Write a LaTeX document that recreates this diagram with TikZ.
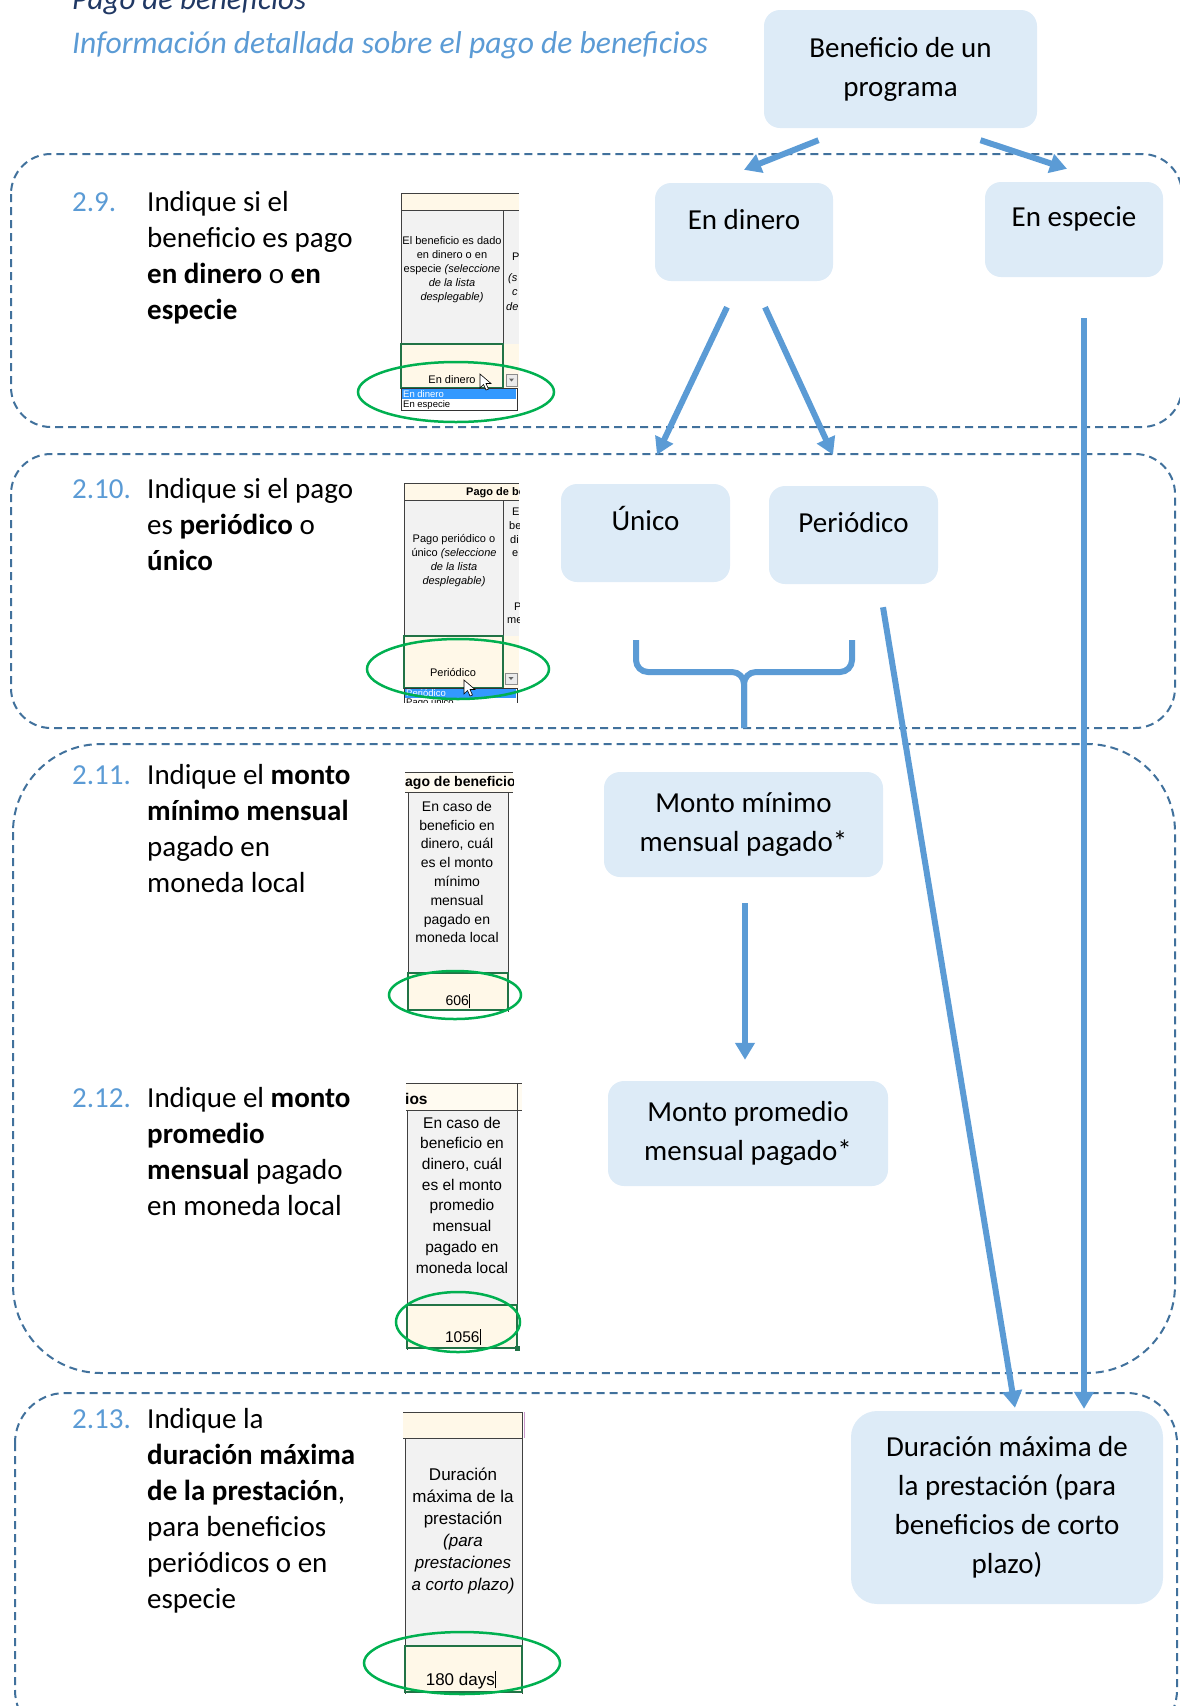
\documentclass[tikz,border=0pt]{standalone}
\usepackage{fontspec}
\setmainfont{Carlito}
\newfontfamily\sheetfont{Liberation Sans}
\usetikzlibrary{arrows.meta}
\definecolor{boxfill}{HTML}{DDEBF7}
\definecolor{arrowblue}{HTML}{5B9BD5}
\definecolor{dashblue}{HTML}{41719C}
\definecolor{titleblue}{HTML}{203864}
\definecolor{ringgreen}{HTML}{00B050}
\definecolor{cellgreen}{HTML}{217346}
\definecolor{sheetgray}{HTML}{F2F2F2}
\definecolor{sheetcream}{HTML}{FFF8E8}
\definecolor{pickblue}{HTML}{3399FF}
\newcommand{\kw}[1]{\textbf{#1}}
\newcommand{\caret}{\kern0.5pt\rule[-0.15em]{0.9pt}{1em}}
\tikzset{
  choice/.style={fill=boxfill, rounded corners=16pt, inner sep=0pt, align=center,
    font=\fontsize{29}{39}\selectfont},
  uptext/.style={text height=20pt, text depth=26pt},
  flow/.style={draw=arrowblue, line width=6pt, -{Triangle[length=17pt,width=19pt]}},
  band/.style={draw=dashblue, line width=2pt, dash pattern=on 8pt off 5pt},
  qnum/.style={anchor=base west, inner sep=0pt, text=arrowblue, font=\fontsize{29}{36}\selectfont},
  question/.style={anchor=base west, inner sep=0pt, align=left, font=\fontsize{29}{36}\selectfont},
  ring/.style={draw=ringgreen, line width=2.5pt},
  gridline/.style={draw=black!75, line width=1pt},
  pick/.style={draw=cellgreen, line width=1.5pt},
  sheet/.style 2 args={inner sep=0pt, align=center, font=\sheetfont\fontsize{#1}{#2}\selectfont},
  frag/.style={inner sep=0pt, anchor=west, font=\sheetfont\fontsize{11}{14}\selectfont},
  listitem/.style={inner sep=0pt, anchor=west, font=\sheetfont\fontsize{9.5}{10}\selectfont},
}
\begin{document}
\begin{tikzpicture}[x=1pt,y=-1pt]
  \useasboundingbox (0,0) rectangle (1179,1706);
  \node[anchor=base west, inner sep=0pt, text=titleblue, font=\fontsize{31}{36}\selectfont\itshape]
    (title) at (72,9) {Pago de beneficios};
  \node[anchor=base west, inner sep=0pt, text=arrowblue, font=\fontsize{31.6}{36}\selectfont\itshape]
    (subtitle) at (72,53) {Información detallada sobre el pago de beneficios};

  \draw[band, rounded corners=40pt] (11,154) rectangle (1182,427);
  \draw[band, rounded corners=40pt] (11,454) rectangle (1175,728);
  \draw[band, rounded corners=88pt] (13,744) rectangle (1175,1373);
  \draw[band, rounded corners=50pt] (15,1393) rectangle (1177,1740);

  % question texts sit on the baseline of their last line
  \node[qnum] (n29) at (72,211) {2.9.};
  \node[question] (q29) at (147,319) {Indique si el\\beneficio es pago\\\kw{en dinero} o \kw{en}\\\kw{especie}};
  \node[qnum] (n210) at (72,498) {2.10.};
  \node[question] (q210) at (147,570) {Indique si el pago\\es \kw{periódico} o\\\kw{único}};
  \node[qnum] (n211) at (72,784) {2.11.};
  \node[question] (q211) at (147,892) {Indique el \kw{monto}\\\kw{mínimo mensual}\\pagado en\\moneda local};
  \node[qnum] (n212) at (72,1107) {2.12.};
  \node[question] (q212) at (147,1215) {Indique el \kw{monto}\\\kw{promedio}\\\kw{mensual} pagado\\en moneda local};
  \node[qnum] (n213) at (72,1428) {2.13.};
  \node[question] (q213) at (147,1608) {Indique la\\\kw{duración máxima}\\\kw{de la prestación},\\para beneficios\\periódicos o en\\especie};

  % sheet 2.9
  \begin{scope}
    \clip (399,191) rectangle (519,411);
    \fill[sheetcream] (401,193) rectangle (519,210);
    \fill[sheetgray] (401,210) rectangle (519,344);
    \fill[sheetcream] (401,344) rectangle (519,388);
    \draw[gridline] (401,193) -- (519,193) (401,210) -- (519,210) (401,193) -- (401,388) (503,210) -- (503,388);
    \node[sheet={11}{14}] (a9txt) at (452,270) {El beneficio es dado\\en dinero o en\\especie \textit{(seleccione}\\\textit{de la lista}\\\textit{desplegable)}};
    \node[frag] (a9f1) at (512,257) {P};
    \node[frag] (a9f2) at (508,279) {\textit{(s}};
    \node[frag] (a9f3) at (512,293) {\textit{c}};
    \node[frag] (a9f4) at (506,307) {\textit{de}};
    \draw[pick] (401,344) rectangle (503,388);
    \node[sheet={11}{14}] (a9val) at (452,380) {En dinero};
    \filldraw[fill=black!8, draw=black!45] (506,374) rectangle (517,386);
    \fill[black!60] (509,378.5) -- (514,378.5) -- (511.5,381.5) -- cycle;
    \filldraw[fill=white, draw=black!80, line width=0.8pt] (401.5,388) rectangle (517,410);
    \fill[pickblue] (402,389) rectangle (516,399);
    \node[listitem, text=white] (a9l1) at (403,394) {En dinero};
    \node[listitem] (a9l2) at (403,405) {En especie};
    \filldraw[fill=white, draw=black, line width=0.6pt] (480,374) -- ++(0,14) -- ++(3.5,-3.5) -- ++(2.5,5.5)
      -- ++(2.5,-1) -- ++(-2.5,-5.5) -- ++(5,0) -- cycle;
  \end{scope}

  % sheet 2.10
  \begin{scope}
    \clip (402,481) rectangle (519,702);
    \fill[sheetcream] (404,483) rectangle (519,500);
    \fill[sheetgray] (404,500) rectangle (519,636);
    \fill[sheetcream] (404,636) rectangle (519,688);
    \draw[gridline] (404,483) -- (519,483) (404,500) -- (519,500) (404,483) -- (404,688) (503,500) -- (503,688);
    \node[frag, font=\sheetfont\bfseries\fontsize{11}{14}\selectfont] (b10head) at (466,493) {Pago de be};
    \node[sheet={11}{14}] (b10txt) at (454,561) {Pago periódico o\\único \textit{(seleccione}\\\textit{de la lista}\\\textit{desplegable)}};
    \node[frag] (b10f1) at (512,512) {E};
    \node[frag] (b10f2) at (509,526) {be};
    \node[frag] (b10f3) at (510,540) {di};
    \node[frag] (b10f4) at (512,554) {e};
    \node[frag] (b10f5) at (514,607) {P};
    \node[frag] (b10f6) at (507,621) {me};
    \draw[pick] (404,636) rectangle (503,688);
    \node[sheet={11}{14}] (b10val) at (453,672) {Periódico};
    \filldraw[fill=black!8, draw=black!45] (505,673) rectangle (517,684);
    \fill[black!60] (508.5,677) -- (513.5,677) -- (511,680) -- cycle;
    \filldraw[fill=white, draw=black!80, line width=0.8pt] (404.5,688) rectangle (517,706);
    \fill[pickblue] (405,689) rectangle (516,698);
    \node[listitem, text=white] (b10l1) at (406,693.5) {Periódico};
    \node[listitem] (b10l2) at (406,703) {Pago único};
    \filldraw[fill=white, draw=black, line width=0.6pt] (464,680) -- ++(0,14) -- ++(3.5,-3.5) -- ++(2.5,5.5)
      -- ++(2.5,-1) -- ++(-2.5,-5.5) -- ++(5,0) -- cycle;
  \end{scope}

  % sheet 2.11
  \begin{scope}
    \clip (403,770) rectangle (513,1013);
    \fill[sheetcream!60] (405,772) rectangle (513,792);
    \fill[sheetgray] (408,792) rectangle (508,973);
    \fill[sheetcream] (408,973) rectangle (508,1010);
    \draw[gridline] (405,772) -- (513,772) (405,792) -- (513,792) (408,792) -- (408,1012) (508,792) -- (508,1012);
    \node[frag, font=\sheetfont\bfseries\fontsize{14}{16}\selectfont] (c11head) at (405,783) {ago de beneficio};
    \node[sheet={14}{18.8}] (c11txt) at (457,872) {En caso de\\beneficio en\\dinero, cuál\\es el monto\\mínimo\\mensual\\pagado en\\moneda local};
    \draw[pick] (408,973) rectangle (508,1010);
    \node[sheet={14}{18.8}] (c11val) at (458,1001) {606\caret};
  \end{scope}

  % sheet 2.12
  \begin{scope}
    \clip (404,1081) rectangle (524,1351);
    \fill[sheetcream!60] (406,1083) rectangle (522,1110);
    \fill[sheetgray] (407,1110) rectangle (517,1305);
    \fill[sheetcream] (407,1305) rectangle (517,1348);
    \draw[gridline] (406,1083) -- (522,1083) (406,1110) -- (522,1110) (407,1110) -- (407,1350) (517,1083) -- (517,1350);
    \node[frag, font=\sheetfont\bfseries\fontsize{15.5}{18}\selectfont] (d12head) at (405,1099) {ios};
    \node[sheet={15.5}{20.7}] (d12txt) at (462,1195) {En caso de\\beneficio en\\dinero, cuál\\es el monto\\promedio\\mensual\\pagado en\\moneda local};
    \draw[pick] (407,1305) rectangle (517,1348);
    \node[sheet={15.5}{20.7}] (d12val) at (463,1337) {1056\caret};
    \fill[cellgreen] (515,1346) rectangle (520,1351);
  \end{scope}

  % sheet 2.13
  \begin{scope}
    \clip (401,1410) rectangle (528,1700);
    \fill[sheetcream] (403,1412) rectangle (523,1438);
    \fill[sheetgray] (405,1438) rectangle (522,1646);
    \fill[sheetcream] (405,1646) rectangle (522,1692);
    \draw[gridline] (403,1412) -- (523,1412) (403,1438) -- (523,1438) (405,1438) -- (405,1694) (522,1412) -- (522,1694);
    \draw[draw=violet!40, line width=1pt] (524,1412) -- (524,1438);
    \node[sheet={17}{22}] (e13txt) at (463,1531) {Duración\\máxima de la\\prestación\\\textit{(para}\\\textit{prestaciones}\\\textit{a corto plazo)}};
    \draw[pick] (405,1646) rectangle (522,1692);
    \node[sheet={17}{22}] (e13val) at (461,1680) {180 days\caret};
  \end{scope}

  \draw[ring] (456,392) ellipse [x radius=98pt, y radius=30pt];
  \draw[ring] (458,669) ellipse [x radius=91pt, y radius=30pt];
  \draw[ring] (455,995) ellipse [x radius=66pt, y radius=24pt];
  \draw[ring] (458,1322) ellipse [x radius=62pt, y radius=30pt];
  \draw[ring] (462,1663) ellipse [x radius=98pt, y radius=31pt];

  \node[choice, minimum width=273pt, minimum height=118pt] (prog) at (900.5,69) {Beneficio de un\\programa};
  \node[choice, uptext, minimum width=178pt, minimum height=98pt] (dinero) at (744,232) {En dinero};
  \node[choice, uptext, minimum width=178pt, minimum height=95pt] (especie) at (1074,229.5) {En especie};
  \node[choice, uptext, minimum width=169pt, minimum height=98pt] (unico) at (645.5,533) {Único};
  \node[choice, uptext, minimum width=169pt, minimum height=98pt] (periodico) at (853.5,535) {Periódico};
  \node[choice, minimum width=279pt, minimum height=105pt] (minimo) at (743.5,824.5) {Monto mínimo\\mensual pagado*};
  \node[choice, minimum width=280pt, minimum height=105pt] (promedio) at (748,1133.5) {Monto promedio\\mensual pagado*};
  \node[choice, rounded corners=26pt, minimum width=312pt, minimum height=193pt] (duracion) at (1007,1507.5)
    {Duración máxima de\\la prestación (para\\beneficios de corto\\plazo)};

  \draw[flow] ([xshift=-82pt,yshift=-12pt]prog.south) -- ([yshift=13pt]dinero.north);
  \draw[flow] ([xshift=80pt,yshift=-12pt]prog.south) -- ([xshift=-7pt,yshift=13pt]especie.north);
  \draw[flow] ([xshift=-17pt,yshift=-26pt]dinero.south) -- ([xshift=11.5pt,yshift=29pt]unico.north);
  \draw[flow] ([xshift=21pt,yshift=-26pt]dinero.south) -- ([xshift=-20.5pt,yshift=31pt]periodico.north);
  \draw[flow] ([xshift=10pt,yshift=-41pt]especie.south) -- ([xshift=77pt,yshift=2pt]duracion.north);
  \draw[flow] ([xshift=29.5pt,yshift=-23pt]periodico.south) -- ([xshift=8pt,yshift=3pt]duracion.north);
  \draw[flow] ([xshift=1.5pt,yshift=-26pt]minimo.south) -- ([xshift=-3pt,yshift=21pt]promedio.north);

  \begin{scope}[draw=arrowblue, line width=6pt, rounded corners=12pt]
    \draw (636,640) -- (636,672) -- (744,672) -- (744,728);
    \draw (852,640) -- (852,672) -- (744,672) -- (744,728);
  \end{scope}
\end{tikzpicture}
\end{document}
